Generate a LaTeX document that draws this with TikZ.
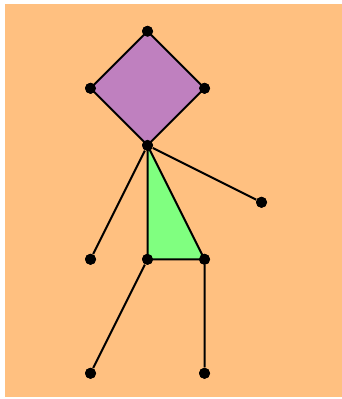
\documentclass[tikz,border=0pt]{standalone}
\usepackage{tikz}
\usetikzlibrary{calc}
\usepackage{xcolor}
\definecolor{bgorange}{RGB}{255,192,128}
\definecolor{headpurple}{RGB}{191,128,191}
\definecolor{bodygreen}{RGB}{128,255,128}

\begin{document}
\begin{tikzpicture}[joint/.style={circle,fill=black,inner sep=0pt,minimum size=5.5pt}]
    \useasboundingbox (-2.588,-0.451) rectangle (3.412,6.549);
    \fill[bgorange] (-2.5,-0.42) rectangle (3.42,6.48);
    % Joints
    \node[joint] (top) at (0,6) {};
    \node[joint] (hl) at (-1,5) {};
    \node[joint] (hr) at (1,5) {};
    \node[joint] (neck) at (0,4) {};
    \node[joint] (rhand) at (2,3) {};
    \node[joint] (lhand) at (-1,2) {};
    \node[joint] (hip) at (0,2) {};
    \node[joint] (knee) at (1,2) {};
    \node[joint] (lfoot) at (-1,0) {};
    \node[joint] (rfoot) at (1,0) {};
    % Head and body
    \filldraw[fill=headpurple,line width=1pt,line join=round] (top.center)--(hr.center)--(neck.center)--(hl.center)--cycle;
    \filldraw[fill=bodygreen,line width=1pt,line join=round] (neck.center)--(knee.center)--(hip.center)--cycle;
    % Limbs
    \draw[line width=1pt] (neck)--(rhand) (neck)--(lhand);
    \draw[line width=1pt] (hip)--(lfoot) (knee)--(rfoot);
    % Redraw joints on top
    \foreach \j in {top,hl,hr,neck,rhand,lhand,hip,knee,lfoot,rfoot}
        \fill (\j) circle (2.75pt);
\end{tikzpicture}
\end{document}
